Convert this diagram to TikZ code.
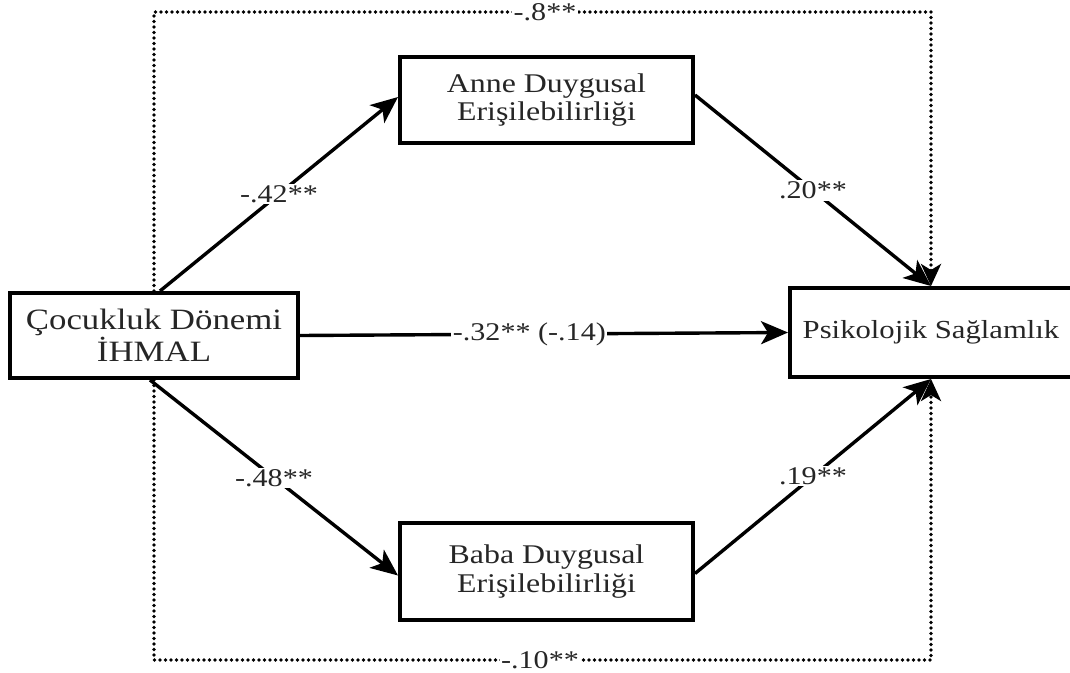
\documentclass[tikz,border=0pt]{standalone}
\usepackage{fontspec}
\setmainfont{Liberation Serif}[FakeStretch=1.18]
\usetikzlibrary{arrows.meta}
\begin{document}
\begin{tikzpicture}[x=1pt,y=-1pt,
  box/.style={draw=black, line width=4pt, fill=white, align=center, inner sep=0pt, text=black!85},
  arr/.style={line width=3.4pt, -{Stealth[length=27pt,width=23pt,inset=7pt]}},
  lbl/.style={font=\fontsize{25.5}{30}\selectfont, text=black!85, inner sep=1.5pt},
  dotline/.style={line width=3.6pt, dash pattern=on 0pt off 5.5pt, line cap=round}]
\useasboundingbox (0,0) rectangle (1070,672);
\node[box, minimum width=288pt, minimum height=85pt, font=\fontsize{29.5}{32}\selectfont] (L) at (154,335.5) {Çocukluk Dönemi\\İHMAL};
\node[box, minimum width=293pt, minimum height=86pt, font=\fontsize{27}{28}\selectfont] (A) at (546.5,100) {Anne Duygusal\\Erişilebilirliği};
\node[box, minimum width=293pt, minimum height=97pt, font=\fontsize{27}{29}\selectfont] (B) at (546.5,571.5) {Baba Duygusal\\Erişilebilirliği};
\node[box, minimum width=282pt, minimum height=89pt, font=\fontsize{26}{30}\selectfont] (P) at (931,332.5) {Psikolojik Sağlamlık};
\coordinate (T) at (545,12);
\coordinate (Bt) at (540,660);
% dotted total-effect paths
\draw[dotline, -{Stealth[length=22pt,width=20pt,inset=6pt]}] (L.north) -- (L.north |- T) -- (P.north |- T) -- (P.north);
\draw[dotline, -{Stealth[length=22pt,width=20pt,inset=6pt]}] (L.south) -- (L.south |- Bt) -- (P.south |- Bt) -- (P.south);
\node[lbl, fill=white] (t8) at (T) {-.8**};
\node[lbl, fill=white] (t10) at (Bt) {-.10**};
% mediation paths
\draw[arr] ([xshift=6pt]L.north) -- node[lbl, fill=white] (l1) {-.42**} ([yshift=3pt]A.west);
\draw[arr] ([yshift=5pt]A.east) -- node[lbl, fill=white] (l2) {.20**} (P.north);
\draw[arr] ([xshift=-4pt]L.south) -- node[lbl, fill=white] (l3) {-.48**} ([yshift=-4pt]B.west);
\draw[arr] ([yshift=-2pt]B.east) -- node[lbl, fill=white] (l4) {.19**} (P.south);
\draw[arr] (L.east) -- node[lbl, fill=white, pos=0.47] (m) {-.32** (-.14)} (P.west);
\end{tikzpicture}
\end{document}
